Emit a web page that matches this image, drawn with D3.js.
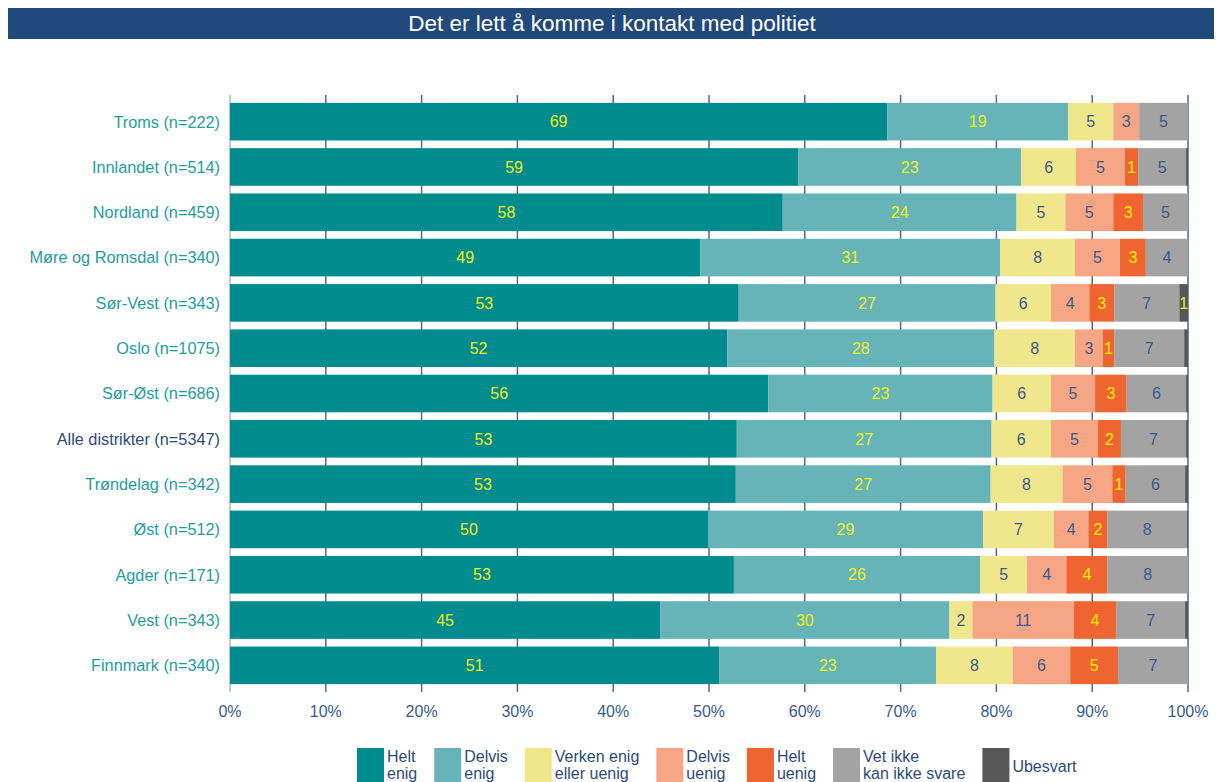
<!DOCTYPE html>
<html>
<head>
<meta charset="utf-8">
<script src="https://cdn.jsdelivr.net/npm/d3@7"></script>
<style>
  body { margin: 0; background: #fff; }
  text { font-family: 'Liberation Sans', Arial, sans-serif; }
</style>
</head>
<body>
<svg width="1217" height="782"></svg>
<script>
(function (d3) {
  'use strict'

  const title = 'Det er lett å komme i kontakt med politiet'

  const categories = [
    'Troms (n=222)', 'Innlandet (n=514)', 'Nordland (n=459)',
    'Møre og Romsdal (n=340)', 'Sør-Vest (n=343)', 'Oslo (n=1075)',
    'Sør-Øst (n=686)', 'Alle distrikter (n=5347)', 'Trøndelag (n=342)',
    'Øst (n=512)', 'Agder (n=171)', 'Vest (n=343)', 'Finnmark (n=340)']

  // percentages per answer, same order as categories
  const heltEnig = [68.6, 59.3, 57.7, 49.1, 53.1, 51.9, 56.2, 52.9, 52.8, 49.9, 52.6, 44.9, 51.1]
  const delvisEnig = [18.9, 23.3, 24.4, 31.3, 26.8, 27.9, 23.4, 26.6, 26.6, 28.7, 25.7, 30.2, 22.6]
  const verken = [4.7, 5.7, 5.1, 7.8, 5.8, 8.4, 6.1, 6.2, 7.5, 7.4, 4.9, 2.4, 8.0]
  const delvisUenig = [2.7, 5.1, 5.0, 4.7, 4.0, 2.9, 4.6, 4.9, 5.2, 3.6, 4.1, 10.6, 6.0]
  const heltUenig = [0, 1.4, 3.1, 2.7, 2.6, 1.2, 3.3, 2.4, 1.4, 2.0, 4.3, 4.4, 5.0]
  const vetIkke = [5.1, 5.0, 4.7, 4.4, 6.8, 7.3, 6.2, 6.8, 6.2, 8.3, 8.4, 7.2, 7.3]
  const ubesvart = [0, 0.2, 0, 0, 0.9, 0.4, 0.2, 0.2, 0.3, 0.1, 0, 0.3, 0]

  const seriesKeys = ['heltEnig', 'delvisEnig', 'verken', 'delvisUenig', 'heltUenig', 'vetIkke', 'ubesvart']
  const seriesNames = [['Helt', 'enig'], ['Delvis', 'enig'], ['Verken enig', 'eller uenig'],
    ['Delvis', 'uenig'], ['Helt', 'uenig'], ['Vet ikke', 'kan ikke svare'], ['Ubesvart']]
  const seriesValues = [heltEnig, delvisEnig, verken, delvisUenig, heltUenig, vetIkke, ubesvart]

  const xTicks = [0, 10, 20, 30, 40, 50, 60, 70, 80, 90, 100]

  const colors = ['#008b8e', '#66b4b7', '#f0e68c', '#f6a684', '#ef6531', '#a3a3a3', '#575757']
  const labelColors = ['#f0f020', '#f0f020', '#3a5a8c', '#3a5a8c', '#ffee00', '#3a5a8c', '#f0f020']

  const rows = categories.map(function (c, i) {
    const r = { category: c }
    seriesKeys.forEach(function (k, j) { r[k] = seriesValues[j][i] })
    return r
  })

  const layers = d3.stack().keys(seriesKeys)(rows)

  const svg = d3.select('svg')

  // title band
  svg.append('rect').
    attr('x', 8).attr('y', 8).
    attr('width', 1206).attr('height', 31).
    attr('fill', '#21497b')
  svg.append('text').
    attr('x', 612).attr('y', 31).
    attr('text-anchor', 'middle').
    attr('fill', '#fff').
    attr('font-size', 22.5).
    text(title)

  const x = d3.scaleLinear().domain([0, 100]).range([230, 1188])
  const y = d3.scaleBand().domain(categories).range([99, 688]).
    paddingInner(0.17).paddingOuter(0.085)

  // gridlines sit behind the bars
  svg.append('g').
    selectAll('line').
    data(xTicks).
    enter().
    append('line').
    attr('x1', function (d) { return x(d) }).
    attr('x2', function (d) { return x(d) }).
    attr('y1', 95).
    attr('y2', 692).
    attr('stroke', function (d) { return d === 0 ? '#a9b8cc' : '#4b6a98' }).
    attr('stroke-width', 1.5)

  const layer = svg.append('g').
    selectAll('g').
    data(layers).
    enter().
    append('g').
    attr('fill', function (d, i) { return colors[i] })

  layer.selectAll('rect').
    data(function (d) { return d }).
    enter().
    append('rect').
    attr('x', function (d) { return x(d[0]) }).
    attr('y', function (d) { return y(d.data.category) }).
    attr('width', function (d) { return x(d[1]) - x(d[0]) }).
    attr('height', y.bandwidth())

  // value labels, rounded, skipped when they round to zero
  layer.each(function (lay, li) {
    d3.select(this).selectAll('text').
      data(lay.filter(function (d) { return Math.round(d[1] - d[0]) >= 1 })).
      enter().
      append('text').
      attr('x', function (d) { return (x(d[0]) + x(d[1])) / 2 }).
      attr('y', function (d) { return y(d.data.category) + y.bandwidth() / 2 }).
      attr('dy', '0.36em').
      attr('text-anchor', 'middle').
      attr('font-size', 16).
      attr('fill', labelColors[li]).
      text(function (d) { return Math.round(d[1] - d[0]) })
  })

  // category labels
  svg.append('g').
    selectAll('text').
    data(categories).
    enter().
    append('text').
    attr('x', 220).
    attr('y', function (d) { return y(d) + y.bandwidth() / 2 }).
    attr('dy', '0.36em').
    attr('text-anchor', 'end').
    attr('font-size', 16.3).
    attr('fill', function (d) { return d.indexOf('Alle') === 0 ? '#2d4a7c' : '#1e9d9f' }).
    text(function (d) { return d })

  // x axis tick labels
  svg.append('g').
    selectAll('text').
    data(xTicks).
    enter().
    append('text').
    attr('x', function (d) { return x(d) }).
    attr('y', 717).
    attr('text-anchor', 'middle').
    attr('font-size', 16).
    attr('fill', '#3a5a8c').
    text(function (d) { return d + '%' })

  // legend, items placed one after another by their text width
  const legend = svg.append('g').attr('class', 'legend')
  let lx = 357
  seriesNames.forEach(function (lines, i) {
    const item = legend.append('g').attr('transform', 'translate(' + lx + ',0)')
    item.append('rect').
      attr('x', 0).attr('y', 748).
      attr('width', 27).attr('height', 34).
      attr('fill', colors[i])
    const t = item.append('text').
      attr('font-size', 16).
      attr('fill', '#2d4a7c')
    t.selectAll('tspan').
      data(lines).
      enter().
      append('tspan').
      attr('x', 30).
      attr('y', function (d, j) {
        return lines.length === 1 ? 772 : 762 + 17 * j
      }).
      text(function (d) { return d })
    lx += 30 + t.node().getBBox().width + 17
  })
}(d3))
</script>
</body>
</html>
